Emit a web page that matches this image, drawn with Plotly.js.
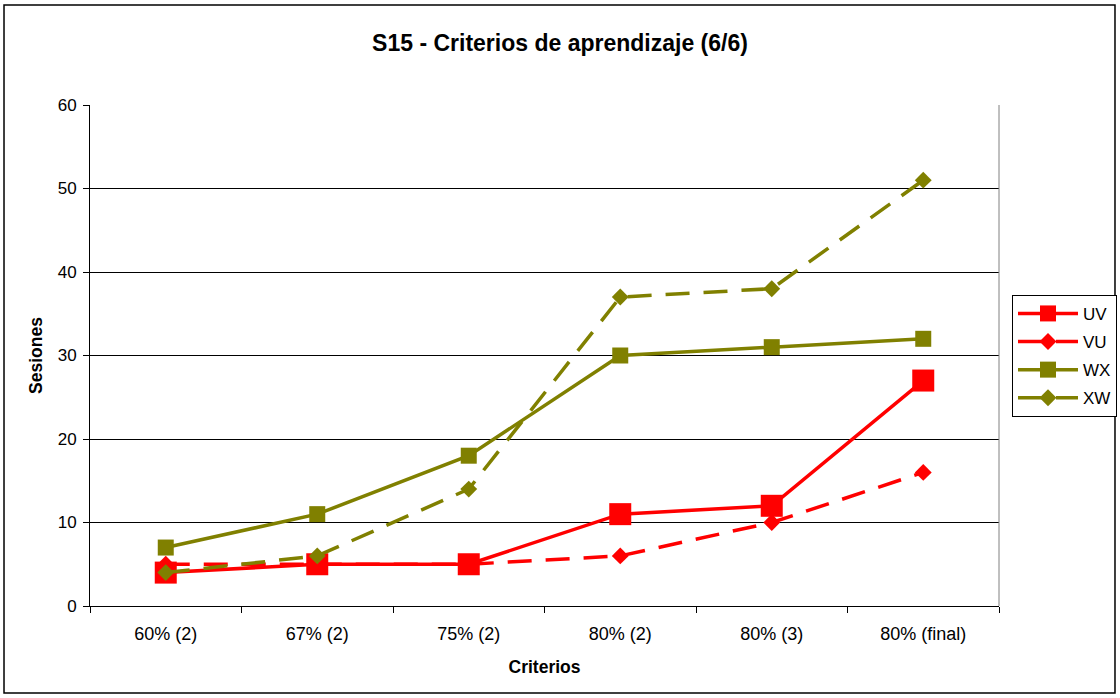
<!DOCTYPE html>
<html>
<head>
<meta charset="utf-8">
<script src="https://cdn.plot.ly/plotly-3.0.1.min.js"></script>
<style>html,body{margin:0;padding:0;background:#fff;}#chart{width:1120px;height:698px;}</style>
</head>
<body>
<div id="chart"></div>
<script>
const categories = ["60% (2)", "67% (2)", "75% (2)", "80% (2)", "80% (3)", "80% (final)"];
const UV = [4, 5, 5, 11, 12, 27];
const VU = [5, 5, 5, 6, 10, 16];
const WX = [7, 11, 18, 30, 31, 32];
const XW = [4, 6, 14, 37, 38, 51];

const red = "#FF0000", olive = "#808000";
const traces = [
  {name: "UV", legendgroup: "a", x: categories, y: UV, mode: "lines+markers", line: {color: red, width: 3.5}, marker: {symbol: "square", size: 22, color: red}},
  {name: "VU", legendgroup: "b", x: categories, y: VU, mode: "lines+markers", line: {color: red, width: 3.5, dash: "24px,14px"}, marker: {symbol: "diamond", size: 13, color: red}},
  {name: "WX", legendgroup: "c", x: categories, y: WX, mode: "lines+markers", line: {color: olive, width: 3.5}, marker: {symbol: "square", size: 16, color: olive}},
  {name: "XW", legendgroup: "d", x: categories, y: XW, mode: "lines+markers", line: {color: olive, width: 3.5, dash: "24px,14px"}, marker: {symbol: "diamond", size: 13, color: olive}}
];

const font = "Liberation Sans, Arial, sans-serif";
const layout = {
  width: 1120, height: 698,
  margin: {l: 90, r: 121, t: 105, b: 92, autoexpand: false},
  paper_bgcolor: "#fff", plot_bgcolor: "#fff",
  font: {family: font, size: 17, color: "#000"},
  title: {text: "<b>S15 - Criterios de aprendizaje (6/6)</b>", x: 0.5, xanchor: "center", y: 0.938, yanchor: "middle", font: {size: 23, family: font}},
  xaxis: {
    type: "category", tickson: "boundaries", ticks: "outside", ticklen: 6, tickcolor: "#000",
    showline: true, linecolor: "#000", linewidth: 1, showgrid: false, zeroline: false,
    range: [-0.5, 5.5], tickfont: {size: 18}, ticklabelstandoff: 11,
    title: {text: "<b>Criterios</b>", font: {size: 17.5}, standoff: 18}
  },
  yaxis: {
    range: [0, 60], dtick: 10, ticks: "outside", ticklen: 6, tickcolor: "#000",
    showline: true, linecolor: "#000", linewidth: 1, showgrid: true, gridcolor: "#000", gridwidth: 1,
    zeroline: false, tickfont: {size: 17}, ticklabelstandoff: 3,
    title: {text: "<b>Sesiones</b>", font: {size: 17.5}, standoff: 10}
  },
  legend: {
    x: 1.0143, xanchor: "left", y: 0.621, yanchor: "top",
    bordercolor: "#000", borderwidth: 1, bgcolor: "#fff",
    font: {size: 17}, tracegroupgap: 3, itemwidth: 60
  },
  shapes: [
    {type: "line", xref: "paper", yref: "paper", x0: 1, x1: 1, y0: 0, y1: 1, line: {color: "#808080", width: 1}},
    {type: "rect", xref: "paper", yref: "paper", x0: -0.0946, x1: 1.1276, y0: -0.1737, y1: 1.1996, line: {color: "#000", width: 1.5}, layer: "below"}
  ],
  showlegend: true
};

Plotly.newPlot("chart", traces, layout, {displayModeBar: false, staticPlot: true});
</script>
</body>
</html>
